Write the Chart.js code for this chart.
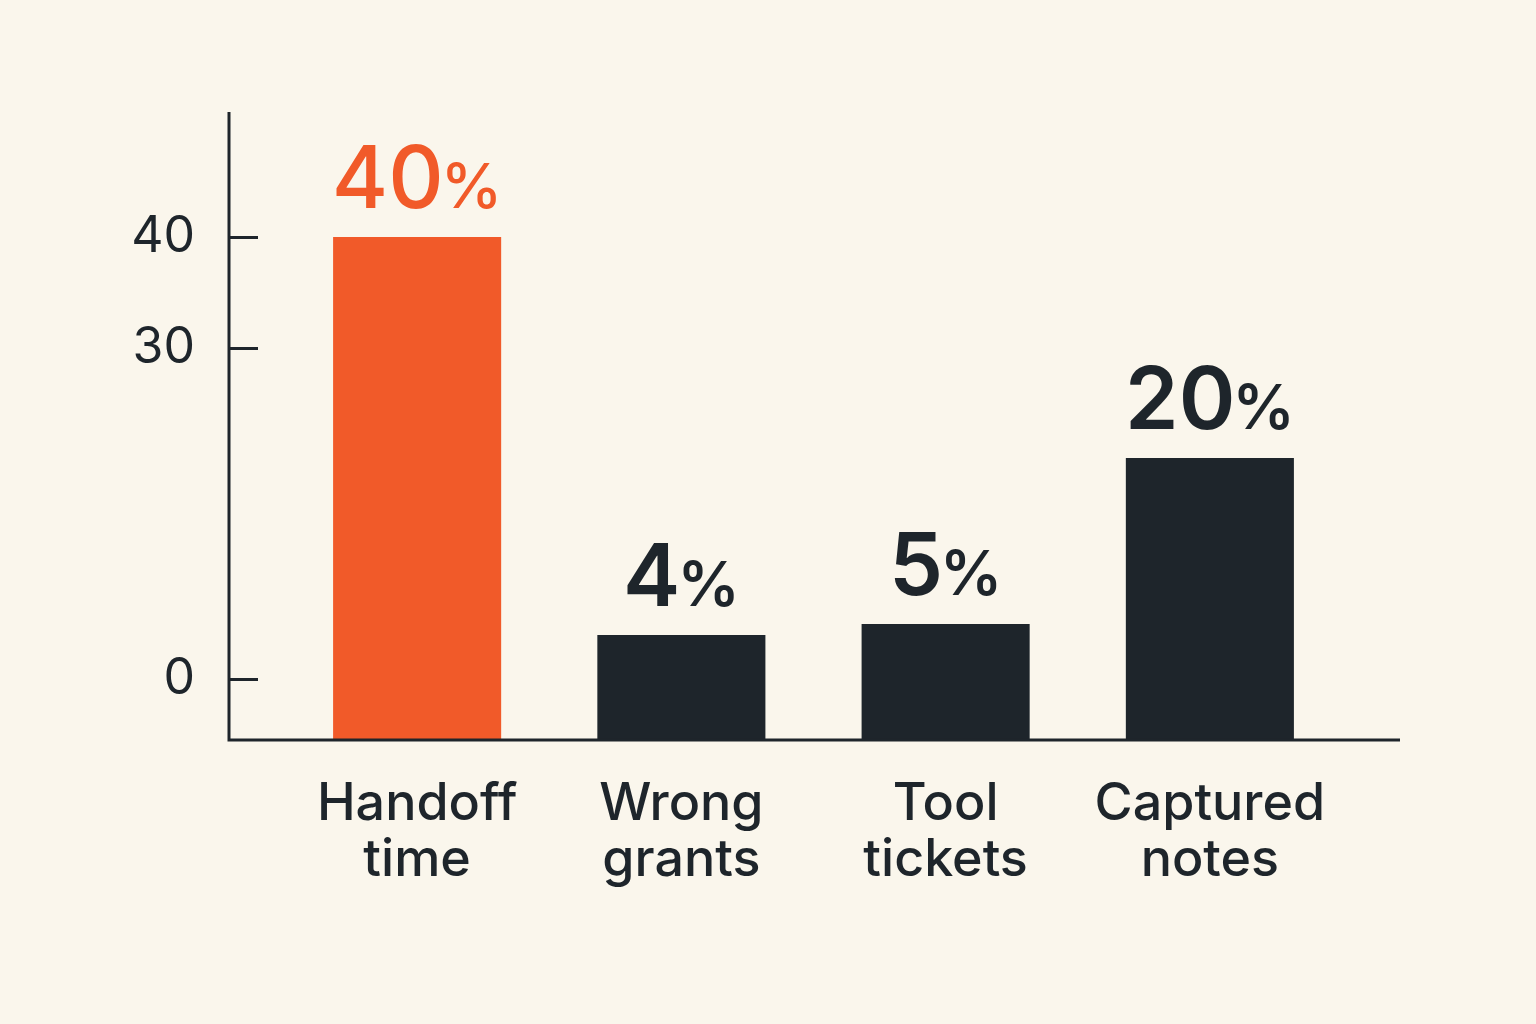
<!DOCTYPE html>
<html>
<head>
<meta charset="utf-8">
<script src="https://cdn.jsdelivr.net/npm/chart.js@4.4.1/dist/chart.umd.min.js"></script>
<style>
  html, body { margin: 0; padding: 0; background: #FAF6EC; }
  #wrap { width: 1536px; height: 1024px; }
</style>
</head>
<body>
<div id="wrap"><canvas id="chart" width="1536" height="1024"></canvas></div>
<script>
// data
var categories = [['Handoff', 'time'], ['Wrong', 'grants'], ['Tool', 'tickets'], ['Captured', 'notes']]
var values = [40, 4, 5, 20]
var yTicks = [0, 30, 40]
var Y_MIN = -5.5
var Y_MAX = 51.3

var ORANGE = '#F15A29'
var DARK = '#1E252B'
var barColors = values.map(function (v, i) { return i == 0 ? ORANGE : DARK })

// axis lines, inward tick marks and the "NN%" labels
var decor = {
    id: 'decor',
    afterDatasetsDraw: function (chart) {
        var ctx = chart.ctx
        var area = chart.chartArea
        var y = chart.scales.y
        var axisX = area.left - 56
        ctx.save()
        ctx.strokeStyle = DARK
        ctx.lineWidth = 3
        ctx.beginPath()
        ctx.moveTo(axisX, area.top)
        ctx.lineTo(axisX, area.bottom)
        ctx.lineTo(area.right + 58, area.bottom)
        yTicks.forEach(function (t) {
            var py = Math.round(y.getPixelForValue(t)) + 0.5
            ctx.moveTo(axisX, py)
            ctx.lineTo(axisX + 29, py)
        })
        ctx.stroke()

        var meta = chart.getDatasetMeta(0)
        meta.data.forEach(function (bar, i) {
            var num = String(values[i])
            var wt = i == 0 ? '500' : '600'
            var bigFont = wt + ' 86px Inter'
            var smallFont = wt + ' 62px Inter'
            ctx.font = bigFont
            var w1 = ctx.measureText(num).width
            ctx.font = smallFont
            var w2 = ctx.measureText('%').width
            var gap = -3
            var x0 = bar.x - (w1 + w2 + gap) / 2
            var base = bar.y - 29
            ctx.fillStyle = barColors[i]
            ctx.textBaseline = 'alphabetic'
            ctx.textAlign = 'left'
            ctx.font = bigFont
            ctx.fillText(num, x0, base)
            ctx.font = smallFont
            ctx.fillText('%', x0 + w1 + gap, base)
        })
        ctx.restore()
    }
}

var ctx = document.getElementById('chart').getContext('2d')
var chart = new Chart(ctx, {
    type: 'bar',
    data: {
        labels: categories,
        datasets: [{
            data: values,
            base: Y_MIN,
            backgroundColor: barColors,
            borderWidth: 0,
            categoryPercentage: 1,
            barPercentage: 0.636
        }]
    },
    options: {
        responsive: false,
        animation: false,
        layout: { padding: { left: 0, right: 194, top: 107, bottom: 0 } },
        plugins: { legend: { display: false }, tooltip: { enabled: false } },
        scales: {
            x: {
                grid: { display: false },
                border: { display: false },
                ticks: {
                    color: DARK,
                    font: { family: 'Inter', size: 52, weight: '500', lineHeight: 1.08 },
                    padding: 28,
                    maxRotation: 0,
                    autoSkip: false
                },
                afterFit: function (scale) { scale.height = 284 }
            },
            y: {
                min: Y_MIN,
                max: Y_MAX,
                grid: { display: false },
                border: { display: false },
                afterBuildTicks: function (scale) {
                    scale.ticks = yTicks.map(function (v) { return { value: v } })
                },
                ticks: {
                    color: DARK,
                    font: { family: 'Inter', size: 50, weight: '400' },
                    padding: 82
                },
                afterFit: function (scale) { scale.width = 285 }
            }
        }
    },
    plugins: [decor]
})
</script>
</body>
</html>
